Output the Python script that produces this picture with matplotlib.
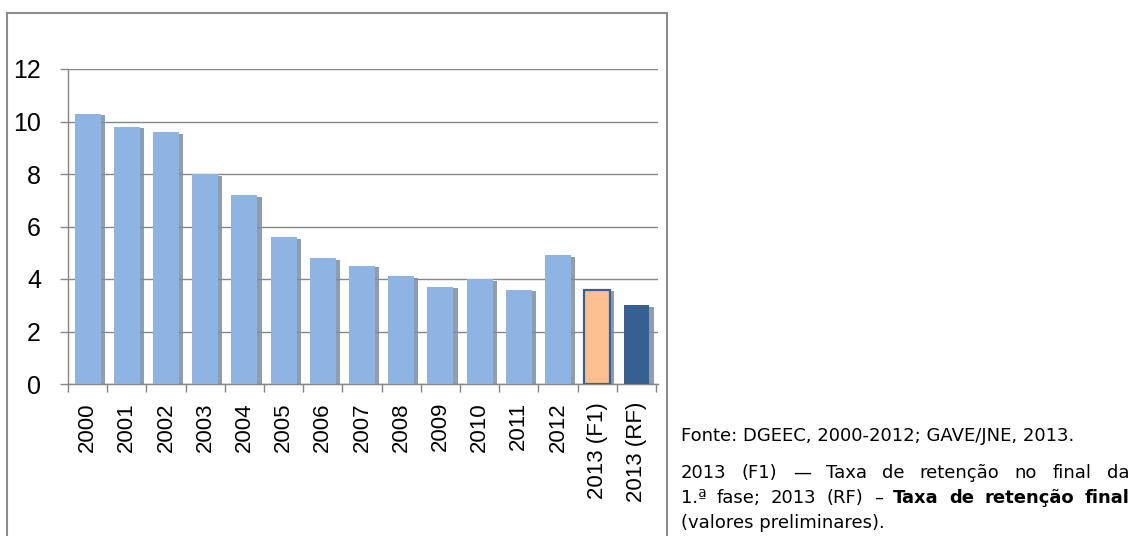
import matplotlib

matplotlib.use("Agg")
import matplotlib.pyplot as plt  # noqa: E402
import numpy as np  # noqa: E402
from matplotlib.patches import Rectangle  # noqa: E402

categories = ["2000", "2001", "2002", "2003", "2004", "2005", "2006", "2007",
              "2008", "2009", "2010", "2011", "2012", "2013 (F1)", "2013 (RF)"]
values = [10.3, 9.8, 9.6, 8.0, 7.2, 5.6, 4.8, 4.5, 4.1, 3.7, 4.0, 3.6, 4.9, 3.6, 3.0]
yticks = [0, 2, 4, 6, 8, 10, 12]

source_note = "Fonte: DGEEC, 2000-2012; GAVE/JNE, 2013."
note_line1 = "2013 (F1) \u2014 Taxa de retenção no final da"
note_line2 = [("1.ª fase; 2013 (RF) \u2013", "normal"), ("Taxa de retenção final", "bold")]
note_line3 = "(valores preliminares)."

W, H = 1134, 536
fig = plt.figure(figsize=(W / 100, H / 100), dpi=100)
ax = fig.add_axes([68 / W, 1 - 384 / H, (658 - 68) / W, (384 - 69) / H])

x = np.arange(len(categories))
fill = ["#8DB4E2"] * 13 + ["#FAC090", "#376092"]
edge = ["#8DB4E2"] * 13 + ["#366092", "#376092"]
lw = [0] * 13 + [1.6, 0]

# drop shadow, offset right/down like the Excel one
ax.bar(x + 0.11, np.array(values) - 0.06, width=0.66, color="#7A8CA6", alpha=0.85, zorder=2)
ax.bar(x, values, width=0.66, color=fill, edgecolor=edge, linewidth=lw, zorder=3)

ax.set_xlim(-0.5, len(categories) - 0.45)
ax.set_ylim(0, 12)
ax.set_yticks(yticks)
ax.yaxis.grid(True, color="#868686", linewidth=1.0, zorder=1)
ax.set_axisbelow(True)

ax.set_xticks(x)
ax.set_xticklabels(categories, rotation=90, family="Liberation Sans", fontsize=16)
ax.set_xticks(np.arange(len(categories) + 1) - 0.5, minor=True)
ax.tick_params(axis="x", which="major", length=0, pad=13)
ax.tick_params(axis="x", which="minor", length=5.5, color="#868686", width=1.0)
ax.tick_params(axis="y", length=5.5, color="#868686", width=1.0, pad=14, labelsize=18)
for lab in ax.get_yticklabels():
    lab.set_family("Liberation Sans")

for s in ("top", "right"):
    ax.spines[s].set_visible(False)
for s in ("left", "bottom"):
    ax.spines[s].set_color("#868686")
    ax.spines[s].set_linewidth(1.0)

# outer frame round the chart
fig.patches.append(Rectangle((7 / W, -0.05), (667 - 7) / W, 1 - 13 / H + 0.05,
                             transform=fig.transFigure, fill=False,
                             edgecolor="#8C8C8C", linewidth=1.5, clip_on=False))

x0, x1 = 681 / W, 1129 / W
fs = 13
fig.text(x0, 1 - 436 / H, source_note, fontsize=fs, va="center", ha="left")


def justify(parts, y):
    # spread the words between x0 and x1 (justified paragraph line)
    words = []
    for text, weight in parts:
        words += [(w, weight) for w in text.split(" ")]
    r = fig.canvas.get_renderer()
    arts = [fig.text(0, y, w, fontsize=fs, weight=wt, va="center", ha="left") for w, wt in words]
    widths = [a.get_window_extent(r).width / W for a in arts]
    gap = max((x1 - x0 - sum(widths)) / (len(arts) - 1), 3 / W)
    pos = x0
    for a, w in zip(arts, widths):
        a.set_x(pos)
        pos += w + gap


justify([(note_line1, "normal")], 1 - 473 / H)
justify(note_line2, 1 - 498 / H)
fig.text(x0, 1 - 523 / H, note_line3, fontsize=fs, va="center", ha="left")

fig.savefig("out.png", dpi=100)
plt.close(fig)
